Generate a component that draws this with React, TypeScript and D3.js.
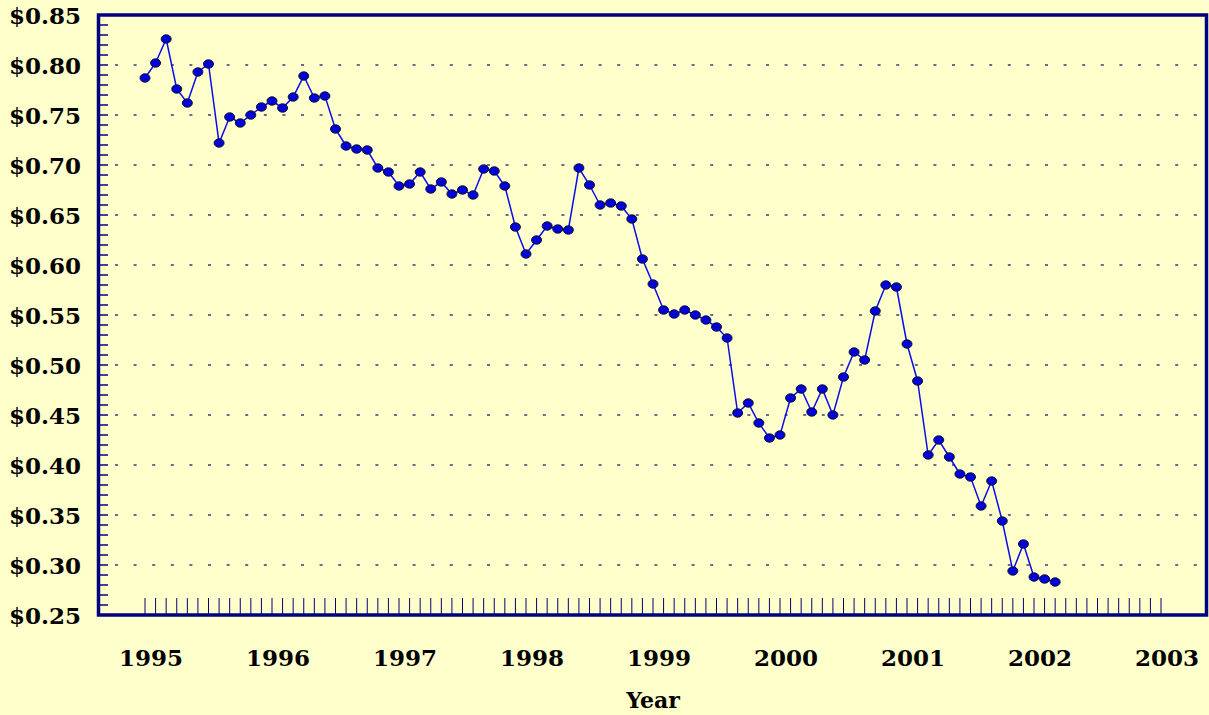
// Monthly price chart 1995-2002: dollar value vs year
import React, { useEffect, useRef } from 'react';
import * as d3 from 'd3';

const years = [1995, 1996, 1997, 1998, 1999, 2000, 2001, 2002, 2003];
const yTicks = [0.25, 0.3, 0.35, 0.4, 0.45, 0.5, 0.55, 0.6, 0.65, 0.7, 0.75, 0.8, 0.85];

// one value per month, starting Jan 1995
const prices1995 = [0.787, 0.802, 0.826, 0.776, 0.762, 0.793, 0.801, 0.722, 0.748, 0.742, 0.75, 0.758];
const prices1996 = [0.764, 0.757, 0.768, 0.789, 0.767, 0.769, 0.736, 0.719, 0.716, 0.715, 0.697, 0.693];
const prices1997 = [0.679, 0.681, 0.693, 0.676, 0.683, 0.671, 0.675, 0.67, 0.696, 0.694, 0.679, 0.638];
const prices1998 = [0.611, 0.625, 0.639, 0.636, 0.635, 0.697, 0.68, 0.66, 0.662, 0.659, 0.646, 0.606];
const prices1999 = [0.581, 0.555, 0.551, 0.555, 0.55, 0.545, 0.538, 0.527, 0.452, 0.462, 0.442, 0.427];
const prices2000 = [0.43, 0.467, 0.476, 0.453, 0.476, 0.45, 0.488, 0.513, 0.505, 0.554, 0.58, 0.578];
const prices2001 = [0.521, 0.484, 0.41, 0.425, 0.408, 0.391, 0.388, 0.359, 0.384, 0.344, 0.294, 0.321];
const prices2002 = [0.288, 0.286, 0.283];

const prices = [
  ...prices1995, ...prices1996, ...prices1997, ...prices1998,
  ...prices1999, ...prices2000, ...prices2001, ...prices2002,
];

const App: React.FC = () => {
  const svgRef = useRef<SVGSVGElement>(null);

  useEffect(() => {
    document.body.style.margin = '0';
    const svg = d3.select(svgRef.current);
    svg.selectAll('*').remove();

    const width = 1209;
    const height = 715;
    const font = "'DejaVu Serif', serif";
    const navy = '#000080';

    svg.append('rect').attr('width', width).attr('height', height).attr('fill', '#FFFFCC');

    // month index scale (0 = Jan 1995, 96 = Jan 2003)
    const nMonths = (years[years.length - 1] - years[0]) * 12;
    const x = d3.scaleLinear().domain([0, nMonths]).range([145, 1161]);
    const y = d3.scaleLinear().domain([0.25, 0.85]).range([615, 15]);

    const frame = { left: 98.5, right: 1206.5 };

    // dotted gridlines
    yTicks.filter((t) => t > 0.26 && t < 0.84).forEach((t) => {
      svg
        .append('line')
        .attr('x1', 115)
        .attr('x2', 1198)
        .attr('y1', y(t))
        .attr('y2', y(t))
        .attr('stroke', '#3a3a7a')
        .attr('stroke-width', 1.6)
        .attr('stroke-dasharray', '3,15.6');
    });

    // left minor ticks every 0.01
    const minor = d3.range(26, 85).map((v) => v / 100);
    minor.forEach((v) => {
      svg
        .append('line')
        .attr('x1', frame.left)
        .attr('x2', 108)
        .attr('y1', y(v))
        .attr('y2', y(v))
        .attr('stroke', navy)
        .attr('stroke-width', 1.5);
    });

    // bottom monthly ticks
    d3.range(0, nMonths + 1).forEach((m) => {
      svg
        .append('line')
        .attr('x1', x(m))
        .attr('x2', x(m))
        .attr('y1', 598)
        .attr('y2', 614)
        .attr('stroke', navy)
        .attr('stroke-width', 1);
    });

    // data line
    const line = d3
      .line<number>()
      .x((_, i) => x(i))
      .y((d) => y(d));

    svg
      .append('path')
      .datum(prices)
      .attr('fill', 'none')
      .attr('stroke', '#0a0aee')
      .attr('stroke-width', 1.5)
      .attr('d', line);

    svg
      .selectAll('ellipse.pt')
      .data(prices)
      .enter()
      .append('ellipse')
      .attr('class', 'pt')
      .attr('cx', (_, i) => x(i))
      .attr('cy', (d) => y(d))
      .attr('rx', 5)
      .attr('ry', 4.2)
      .attr('fill', '#0000d8')
      .attr('stroke', '#101030')
      .attr('stroke-width', 1);

    // frame
    svg
      .append('rect')
      .attr('x', frame.left)
      .attr('y', y(0.85))
      .attr('width', frame.right - frame.left)
      .attr('height', y(0.25) - y(0.85))
      .attr('fill', 'none')
      .attr('stroke', navy)
      .attr('stroke-width', 3.5);

    // y labels
    yTicks.forEach((t) => {
      svg
        .append('text')
        .attr('x', 81)
        .attr('y', y(t) + 9)
        .attr('text-anchor', 'end')
        .style('font-family', font)
        .style('font-weight', 'bold')
        .style('font-size', '23px')
        .attr('fill', '#000')
        .text(`$${t.toFixed(2)}`);
    });

    // year labels
    years.forEach((yr, i) => {
      svg
        .append('text')
        .attr('x', x(i * 12) + 6)
        .attr('y', 666)
        .attr('text-anchor', 'middle')
        .style('font-family', font)
        .style('font-weight', 'bold')
        .style('font-size', '23px')
        .attr('fill', '#000')
        .text(String(yr));
    });

    svg
      .append('text')
      .attr('x', 653)
      .attr('y', 708)
      .attr('text-anchor', 'middle')
      .style('font-family', font)
      .style('font-weight', 'bold')
      .style('font-size', '22px')
      .attr('fill', '#000')
      .text('Year');
  }, []);

  return (
    <div style={{ width: 1209, height: 715 }}>
      <svg ref={svgRef} width={1209} height={715} style={{ display: 'block' }}></svg>
    </div>
  );
};

export default App;
